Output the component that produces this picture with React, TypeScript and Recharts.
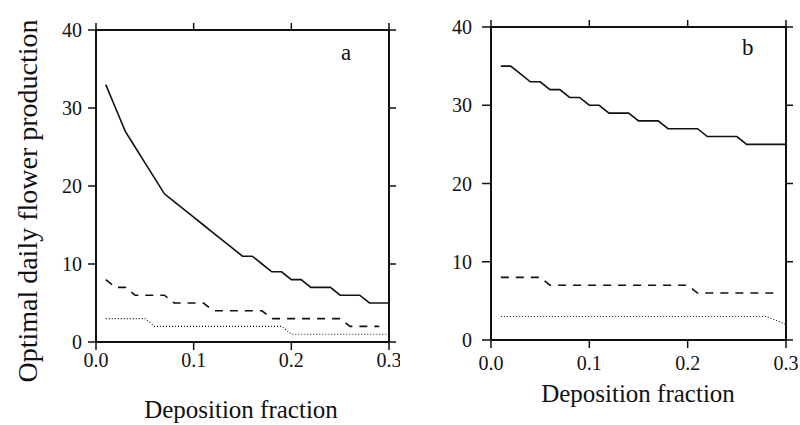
import React from 'react';
import { LineChart, Line, XAxis, YAxis } from 'recharts';

// deposition fraction (x) shared by every curve
const xs = [0.01, 0.02, 0.03, 0.04, 0.05, 0.06, 0.07, 0.08, 0.09, 0.10,
    0.11, 0.12, 0.13, 0.14, 0.15, 0.16, 0.17, 0.18, 0.19, 0.20,
    0.21, 0.22, 0.23, 0.24, 0.25, 0.26, 0.27, 0.28, 0.29, 0.30];

// panel a
const aSolid = [33, 30, 27, 25, 23, 21, 19, 18, 17, 16, 15, 14, 13, 12, 11, 11, 10, 9, 9, 8, 8, 7, 7, 7, 6, 6, 6, 5, 5, 5];
const aDashed = [8, 7, 7, 6, 6, 6, 6, 5, 5, 5, 5, 4, 4, 4, 4, 4, 4, 3, 3, 3, 3, 3, 3, 3, 3, 2, 2, 2, 2, null];
const aDotted = [3, 3, 3, 3, 3, 2, 2, 2, 2, 2, 2, 2, 2, 2, 2, 2, 2, 2, 2, 1, 1, 1, 1, 1, 1, 1, 1, 1, 1, 1];

// panel b
const bSolid = [35, 35, 34, 33, 33, 32, 32, 31, 31, 30, 30, 29, 29, 29, 28, 28, 28, 27, 27, 27, 27, 26, 26, 26, 26, 25, 25, 25, 25, 25];
const bDashed = [8, 8, 8, 8, 8, 7, 7, 7, 7, 7, 7, 7, 7, 7, 7, 7, 7, 7, 7, 7, 6, 6, 6, 6, 6, 6, 6, 6, 6, null];
const bDotted = [3, 3, 3, 3, 3, 3, 3, 3, 3, 3, 3, 3, 3, 3, 3, 3, 3, 3, 3, 3, 3, 3, 3, 3, 3, 3, 3, 3, null, 2];

const xTicks = [0, 0.1, 0.2, 0.3];
const yTicks = [0, 10, 20, 30, 40];

const FONT = '"Liberation Serif", "DejaVu Serif", serif';
const INK = '#111';

const makeRows = (solid: (number | null)[], dashed: (number | null)[], dotted: (number | null)[]) =>
    xs.map((x, i) => ({ x, solid: solid[i], dashed: dashed[i], dotted: dotted[i] }));

interface PanelProps {
    rows: { x: number; solid: number | null; dashed: number | null; dotted: number | null }[];
    margin: { top: number; right: number; bottom: number; left: number };
    yTickSize: number;
    yTickMargin: number;
    xTickMargin: number;
}

const Panel: React.FC<PanelProps> = ({ rows, margin, yTickSize, yTickMargin, xTickMargin }) => {
    const tickStyle = { fill: INK, fontSize: 20, fontFamily: FONT };
    const axisLine = { stroke: INK, strokeWidth: 2 };
    const tickLine = { stroke: INK, strokeWidth: 1.5 };
    return (
        <LineChart width={400} height={425} data={rows} margin={margin}>
            <XAxis
                xAxisId="bottom" dataKey="x" type="number" domain={[0, 0.3]} ticks={xTicks}
                allowDataOverflow tickFormatter={(v: number) => v.toFixed(1)}
                tick={tickStyle} axisLine={axisLine} tickLine={tickLine}
                tickSize={8} tickMargin={xTickMargin} height={30} interval={0}
            />
            <XAxis
                xAxisId="top" orientation="top" dataKey="x" type="number" domain={[0, 0.3]} ticks={xTicks}
                allowDataOverflow tickFormatter={() => ''}
                axisLine={axisLine} tickLine={tickLine} tickSize={7} height={1} interval={0}
            />
            <YAxis
                yAxisId="left" type="number" domain={[0, 40]} ticks={yTicks} allowDataOverflow
                tick={tickStyle} axisLine={axisLine} tickLine={tickLine}
                tickSize={yTickSize} tickMargin={yTickMargin} width={40} interval={0}
            />
            <YAxis
                yAxisId="right" orientation="right" type="number" domain={[0, 40]} ticks={yTicks}
                allowDataOverflow tickFormatter={() => ''}
                axisLine={axisLine} tickLine={tickLine} tickSize={7} width={1} interval={0}
            />
            <Line xAxisId="bottom" yAxisId="left" dataKey="solid" stroke={INK} strokeWidth={1.6}
                dot={false} type="linear" connectNulls isAnimationActive={false} />
            <Line xAxisId="bottom" yAxisId="left" dataKey="dashed" stroke={INK} strokeWidth={1.6}
                strokeDasharray="8 7" dot={false} type="linear" connectNulls isAnimationActive={false} />
            <Line xAxisId="bottom" yAxisId="left" dataKey="dotted" stroke={INK} strokeWidth={1.1}
                strokeDasharray="1 2" dot={false} type="linear" connectNulls isAnimationActive={false} />
            {/* invisible series so the top and right axes are used and drawn */}
            <Line xAxisId="top" yAxisId="right" dataKey="solid" stroke="none" dot={false}
                legendType="none" isAnimationActive={false} />
        </LineChart>
    );
};

const abs = (left: number, top: number): React.CSSProperties => ({ position: 'absolute', left, top });

export default function App() {
    return (
        <div style={{ position: 'absolute', left: 0, top: 0, width: 800, height: 425, background: '#fff', fontFamily: FONT, color: INK }}>
            <div style={abs(0, 0)}>
                <Panel rows={makeRows(aSolid, aDashed, aDotted)}
                    margin={{ top: 29, right: 10, bottom: 53, left: 56 }}
                    yTickSize={8} yTickMargin={6} xTickMargin={3} />
            </div>
            <div style={abs(400, 0)}>
                <Panel rows={makeRows(bSolid, bDashed, bDotted)}
                    margin={{ top: 26, right: 13, bottom: 55, left: 51 }}
                    yTickSize={9} yTickMargin={10} xTickMargin={8} />
            </div>

            {/* panel letters */}
            <div style={{ ...abs(341, 40), fontSize: 23 }}>a</div>
            <div style={{ ...abs(742, 35), fontSize: 23 }}>b</div>

            {/* axis titles */}
            <div style={{
                position: 'absolute', left: 28, top: 201, fontSize: 28, whiteSpace: 'nowrap',
                transform: 'translate(-50%, -50%) rotate(-90deg)'
            }}>Optimal daily flower production</div>
            <div style={{ position: 'absolute', left: 241, top: 410, fontSize: 25, whiteSpace: 'nowrap', transform: 'translate(-50%, -50%)' }}>
                Deposition fraction
            </div>
            <div style={{ position: 'absolute', left: 638, top: 394, fontSize: 25, whiteSpace: 'nowrap', transform: 'translate(-50%, -50%)' }}>
                Deposition fraction
            </div>
        </div>
    );
}
